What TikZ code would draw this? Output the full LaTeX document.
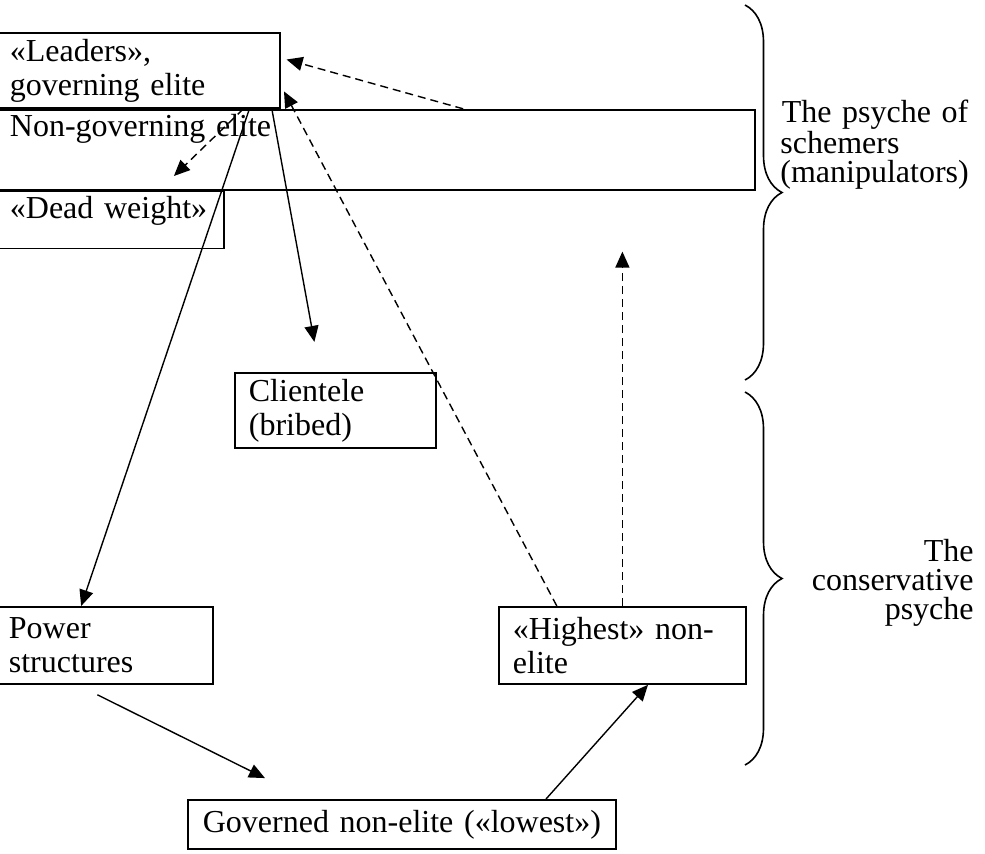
\documentclass[tikz,border=0pt]{standalone}
\usepackage{fontspec}
\setmainfont{Liberation Serif}
\usetikzlibrary{positioning,arrows.meta,decorations.pathreplacing}

\begin{document}
\begin{tikzpicture}[x=0.5pt,y=-0.5pt,>={Triangle[length=8pt,width=7pt]},
	every node/.style={font=\fontsize{16pt}{17pt}\selectfont},
	box/.style={draw,line width=0.9pt,align=left,inner xsep=7pt,inner ysep=0pt},
	link/.style={->,line width=0.7pt},
	dlink/.style={link,dash pattern=on 4pt off 2.5pt},
	brace/.style={decorate,decoration={brace,amplitude=18.5pt},line width=0.8pt},
	side/.style={inner sep=0pt,font=\fontsize{16pt}{14.5pt}\selectfont}]
	\useasboundingbox (0,0) rectangle (985,853);

	% boxes
	\node[box,anchor=north west,text width=128pt,minimum height=37.5pt] (leaders) at (-5,32) {«Leaders»,\\governing elite};
	\node[box,text width=365.5pt,text height=13.5pt,text depth=26.5pt] (nongov) [below right=0pt and 0pt of leaders.south west] {Non-governing elite};
	\node[box,text width=100pt,text height=13.5pt,text depth=15pt] (dead) [below right=0pt and 0pt of nongov.south west] {«Dead weight»};
	\node[box,anchor=north west,text width=86.5pt,minimum height=37.5pt] (clientele) at (234,372) {Clientele\\(bribed)};
	\node[box,anchor=north west,text width=95pt,minimum height=38.5pt] (power) at (-6,606) {Power\\structures};
	\node[box,anchor=north west,text width=109.5pt,minimum height=38.5pt] (highest) at (498,606) {«Highest» non-\\elite};
	\node[box,anchor=north west,text width=200pt,minimum height=24.5pt,align=center] (governed) at (187,799) {Governed non-elite («lowest»)};

	% braces and their labels
	\draw[brace] (745,5) -- (745,380);
	\draw[brace] (745,392) -- (745,765);
	\node[side,anchor=west,text width=94pt,align=left] (schemers) at (780,145) {\hspace*{\fill}The psyche of\\schemers\\(manipulators)};
	\node[side,anchor=east,align=right] (conserv) at (974,583) {The\\conservative\\psyche};

	% connectors
	\draw[dlink,shorten >=3pt] (nongov.25.6) -- (leaders.5);
	\draw[dlink,shorten >=3.4pt] (highest.149.5) -- (leaders.-6.6);
	\draw[dlink,shorten >=30.5pt] (highest.north) -- (highest.north |- nongov.south);
	\draw[dlink,shorten >=10.5pt] (leaders.-20.6) -- (dead.31.8);
	\draw[link] (leaders.-19.8) -- (power.120.9);
	\draw[link,shorten >=15.3pt] (leaders.-16.2) -- (clientele.112.5);
	\draw[link,shorten <=11.2pt,shorten >=23.5pt] (power.236) -- (governed.165.1);
	\draw[link] (governed.10.9) -- (highest.-57.5);
\end{tikzpicture}
\end{document}
